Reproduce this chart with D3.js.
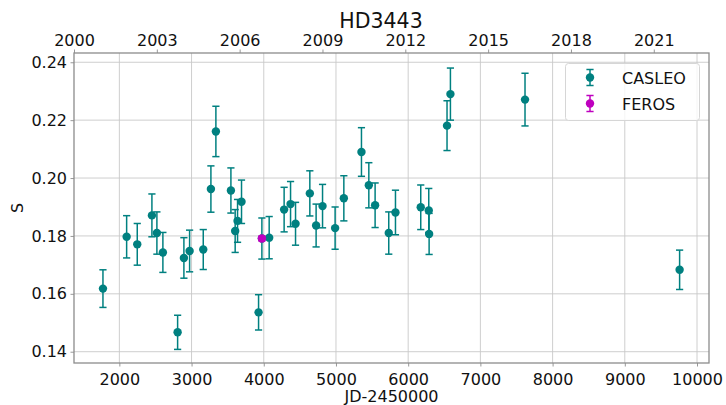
<!DOCTYPE html>
<html>
<head>
<meta charset="utf-8">
<script src="https://cdn.jsdelivr.net/npm/d3@7"></script>
<style>
  html, body { margin: 0; padding: 0; background: #fff; }
  svg { display: block; font-family: "DejaVu Sans", sans-serif; }
</style>
</head>
<body>
<svg id="chart" width="726" height="405"></svg>
<script>
// S-index time series of HD3443
const casleoJD  = [1773, 2101, 2248, 2451, 2520, 2603, 2807, 2894, 2973, 3162,
                   3268, 3337, 3545, 3604, 3637, 3692, 3928, 3974, 4075, 4282, 4371,
                   4440, 4638, 4725, 4814, 4988, 5109, 5353, 5455, 5542, 5731,
                   5824, 6174, 6285, 6290, 6538, 6585, 7618, 9759];
const casleoS   = [0.1618, 0.1797, 0.1771, 0.1871, 0.1810, 0.1743, 0.1467, 0.1724, 0.1748, 0.1753,
                   0.1962, 0.2161, 0.1957, 0.1817, 0.1852, 0.1918, 0.1536, 0.1791, 0.1794, 0.1891, 0.1910,
                   0.1842, 0.1947, 0.1836, 0.1903, 0.1827, 0.1930, 0.2090, 0.1975, 0.1906, 0.1810,
                   0.1881, 0.1899, 0.1888, 0.1807, 0.2181, 0.2290, 0.2271, 0.1683];
const casleoErr = [0.0065, 0.0073, 0.0072, 0.0074, 0.0073, 0.0069, 0.0059, 0.0070, 0.0072, 0.0069,
                   0.0080, 0.0087, 0.0078, 0.0074, 0.0074, 0.0075, 0.0061, 0.0071, 0.0073, 0.0077, 0.0078,
                   0.0074, 0.0078, 0.0074, 0.0075, 0.0073, 0.0078, 0.0084, 0.0078, 0.0077, 0.0073,
                   0.0077, 0.0077, 0.0076, 0.0071, 0.0086, 0.0090, 0.0091, 0.0068];
const ferosJD  = [3974];
const ferosS   = [0.1791];
const ferosErr = [0.0008];

const jdTicks   = [2000, 3000, 4000, 5000, 6000, 7000, 8000, 9000, 10000];
const sTicks    = [0.14, 0.16, 0.18, 0.20, 0.22, 0.24];
const yearTicks = [2000, 2003, 2006, 2009, 2012, 2015, 2018, 2021];

const series = [
  { name: "CASLEO", color: "#008080", jd: casleoJD, s: casleoS, err: casleoErr },
  { name: "FEROS",  color: "#bf00bf", jd: ferosJD,  s: ferosS,  err: ferosErr }
];

const svg = d3.select("#chart");
const L = 74, R = 709, T = 53, B = 363;

const x = d3.scaleLinear().domain([1372, 10166]).range([L, R]);
const y = d3.scaleLinear().domain([0.1361, 0.2432]).range([B, T]);
const xYear = d3.scaleLinear().domain([2000, 2023]).range([L, R]);

const spine = "#8c8c8c";
const tickFont = 16;

// grid
const grid = svg.append("g");
grid.selectAll("line.gx").data(jdTicks).join("line")
  .attr("x1", d => x(d)).attr("x2", d => x(d)).attr("y1", T).attr("y2", B)
  .attr("stroke", "#c8c8c8").attr("stroke-width", 0.9);
grid.selectAll("line.gy").data(sTicks).join("line")
  .attr("x1", L).attr("x2", R).attr("y1", d => y(d)).attr("y2", d => y(d))
  .attr("stroke", "#c8c8c8").attr("stroke-width", 0.9);

// axes
function styleAxis(g) {
  g.select(".domain").remove();
  g.selectAll(".tick line").attr("stroke", spine).attr("stroke-width", 0.9);
  g.selectAll(".tick text").attr("fill", "#111").style("font-size", tickFont + "px")
    .style("font-family", "'DejaVu Sans', sans-serif");
}

svg.append("g").attr("transform", `translate(0,${B})`)
  .call(d3.axisBottom(x).tickValues(jdTicks).tickFormat(d3.format("d")).tickSize(3.5).tickPadding(7))
  .call(styleAxis);

svg.append("g").attr("transform", `translate(${L},0)`)
  .call(d3.axisLeft(y).tickValues(sTicks).tickFormat(d3.format(".2f")).tickSize(3.5).tickPadding(3.5))
  .call(styleAxis);

svg.append("g").attr("transform", `translate(0,${T})`)
  .call(d3.axisTop(xYear).tickValues(yearTicks).tickFormat(d3.format("d")).tickSize(3.5).tickPadding(3.5))
  .call(styleAxis);

// frame
svg.append("rect").attr("x", L).attr("y", T).attr("width", R - L).attr("height", B - T)
  .attr("fill", "none").attr("stroke", spine).attr("stroke-width", 1.3);

// error bars and points
const capHalf = 3.6;
series.forEach(sr => {
  const pts = sr.jd.map((j, i) => ({ j, s: sr.s[i], e: sr.err[i] }));
  const g = svg.append("g");
  g.selectAll("line.bar").data(pts).join("line")
    .attr("x1", d => x(d.j)).attr("x2", d => x(d.j))
    .attr("y1", d => y(d.s - d.e)).attr("y2", d => y(d.s + d.e))
    .attr("stroke", sr.color).attr("stroke-width", 1.5);
  ["-", "+"].forEach(sign => {
    g.selectAll("line.cap" + (sign === "+" ? "t" : "b")).data(pts).join("line")
      .attr("x1", d => x(d.j) - capHalf).attr("x2", d => x(d.j) + capHalf)
      .attr("y1", d => y(sign === "+" ? d.s + d.e : d.s - d.e))
      .attr("y2", d => y(sign === "+" ? d.s + d.e : d.s - d.e))
      .attr("stroke", sr.color).attr("stroke-width", 1.5);
  });
  g.selectAll("circle").data(pts).join("circle")
    .attr("cx", d => x(d.j)).attr("cy", d => y(d.s)).attr("r", 4.2)
    .attr("fill", sr.color);
});

// legend
const lg = svg.append("g");
lg.append("rect").attr("x", 565.5).attr("y", 63.5).attr("width", 134).attr("height", 57)
  .attr("rx", 3).attr("fill", "rgba(255,255,255,0.8)").attr("stroke", "#d6d6d6").attr("stroke-width", 1);
series.forEach((sr, i) => {
  const cy = 77.5 + i * 26, cx = 590;
  lg.append("line").attr("x1", cx).attr("x2", cx).attr("y1", cy - 8).attr("y2", cy + 8)
    .attr("stroke", sr.color).attr("stroke-width", 1.5);
  [-8, 8].forEach(o => lg.append("line").attr("x1", cx - capHalf).attr("x2", cx + capHalf)
    .attr("y1", cy + o).attr("y2", cy + o).attr("stroke", sr.color).attr("stroke-width", 1.5));
  lg.append("circle").attr("cx", cx).attr("cy", cy).attr("r", 4.2).attr("fill", sr.color);
  lg.append("text").attr("x", 622).attr("y", cy + 6).text(sr.name)
    .style("font-size", "16px").attr("fill", "#111");
});

// titles
svg.append("text").attr("x", 381).attr("y", 28).attr("text-anchor", "middle")
  .style("font-size", "20.5px").attr("fill", "#111").text("HD3443");
svg.append("text").attr("x", 391.5).attr("y", 402).attr("text-anchor", "middle")
  .style("font-size", "16px").attr("fill", "#111").text("JD-2450000");
svg.append("text").attr("transform", "translate(23,208) rotate(-90)").attr("text-anchor", "middle")
  .style("font-size", "16px").attr("fill", "#111").text("S");
</script>
</body>
</html>
